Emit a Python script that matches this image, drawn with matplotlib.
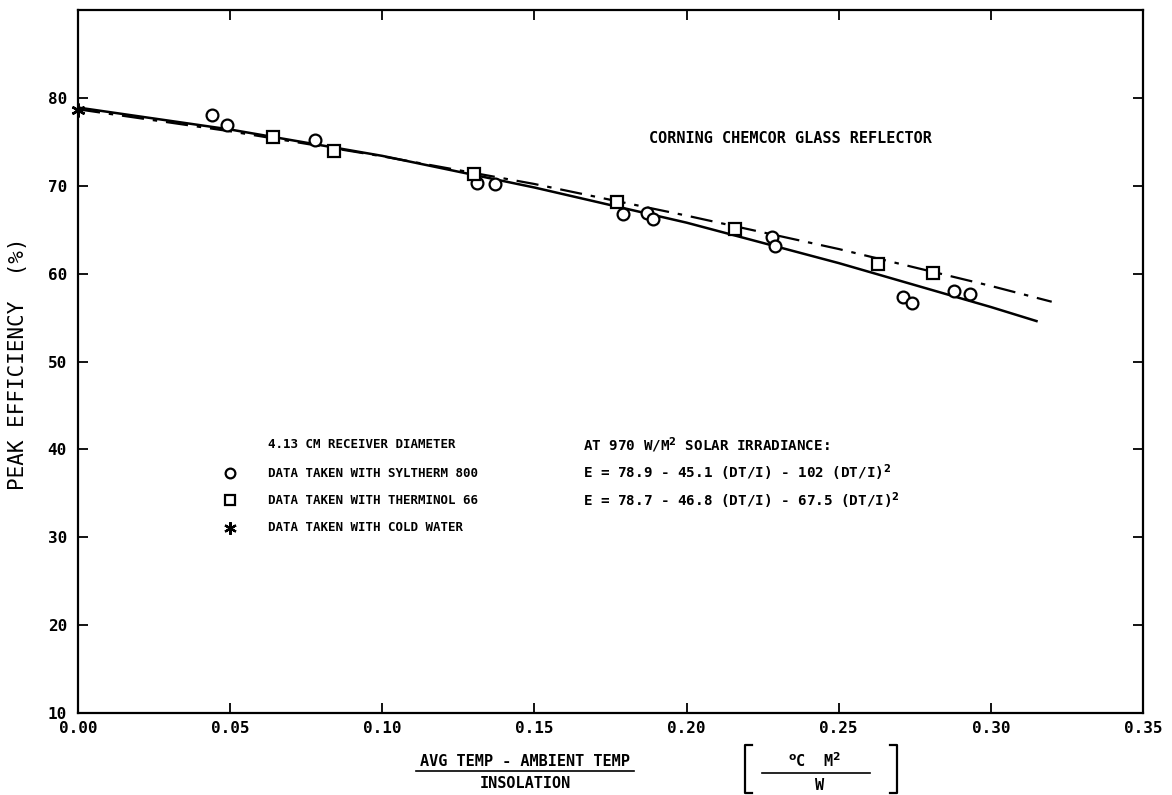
"""
Peak efficiency vs (avg temp - ambient temp)/insolation, Corning Chemcor glass reflector
"""
import matplotlib
matplotlib.use('Agg')
from matplotlib import pyplot as plt
from matplotlib.lines import Line2D

FONT = 'DejaVu Sans Mono'

# Syltherm 800 data (circles)
SYL_X = [0.044, 0.049, 0.078, 0.131, 0.137, 0.179, 0.187, 0.189,
         0.228, 0.229, 0.271, 0.274, 0.288, 0.293]
SYL_Y = [78.0, 76.9, 75.2, 70.3, 70.2, 66.8, 66.9, 66.2,
         64.2, 63.1, 57.3, 56.7, 58.0, 57.7]

# Therminol 66 data (squares)
THE_X = [0.064, 0.084, 0.130, 0.177, 0.216, 0.263, 0.281]
THE_Y = [75.5, 73.9, 71.3, 68.2, 65.1, 61.1, 60.1]

# cold water (asterisk)
COLD_X = [0.0]
COLD_Y = [78.6]

# fitted curves
FIT_SYL_X = [0.0, 0.05, 0.10, 0.15, 0.20, 0.25, 0.30, 0.315]
FIT_SYL_Y = [78.9, 76.4, 73.4, 69.8, 65.8, 61.2, 56.2, 54.6]
FIT_THE_X = [0.0, 0.05, 0.10, 0.15, 0.20, 0.25, 0.30, 0.32]
FIT_THE_Y = [78.7, 76.2, 73.35, 70.2, 66.6, 62.8, 58.6, 56.8]

X_TICKS = [0.00, 0.05, 0.10, 0.15, 0.20, 0.25, 0.30, 0.35]
Y_TICKS = [10, 20, 30, 40, 50, 60, 70, 80]


def main():
    fig = plt.figure(figsize=(11.72, 7.95), dpi=100)
    ax = fig.add_axes([78 / 1172, 1 - 713 / 795, (1143 - 78) / 1172, (713 - 10) / 795])
    ax.set_xlim(0, 0.35)
    ax.set_ylim(10, 90)

    ax.plot(FIT_SYL_X, FIT_SYL_Y, color='k', lw=1.8)
    ax.plot(FIT_THE_X, FIT_THE_Y, color='k', lw=1.6, dashes=(10, 4, 2, 4))

    ax.plot(SYL_X, SYL_Y, 'o', ms=8.5, mfc='white', mec='k', mew=1.6, ls='none')
    ax.plot(THE_X, THE_Y, 's', ms=8, mfc='white', mec='k', mew=1.6, ls='none')
    ax.plot(COLD_X, COLD_Y, marker=(6, 2, 0), ms=10, color='k', mew=1.8, ls='none',
            clip_on=False)

    ax.set_xticks(X_TICKS)
    ax.set_xticklabels([f'{v:.2f}' for v in X_TICKS], family=FONT,
                       fontweight='bold', fontsize=11.5)
    ax.set_yticks(Y_TICKS)
    ax.set_yticklabels([str(v) for v in Y_TICKS], family=FONT,
                       fontweight='bold', fontsize=11.5)
    ax.tick_params(direction='in', length=7, width=1.3, top=True, right=True)
    ax.tick_params(axis='x', pad=6)
    ax.tick_params(axis='y', pad=8)
    for spine in ax.spines.values():
        spine.set_linewidth(1.6)

    left = dict(family=FONT, fontweight='bold', fontsize=9, va='center')
    right = dict(family=FONT, fontweight='bold', fontsize=10.3, va='center')
    ax.text(0.1875, 75.4, 'CORNING CHEMCOR GLASS REFLECTOR',
            family=FONT, fontweight='bold', fontsize=11, va='center')
    ax.text(0.0625, 40.5, '4.13 CM RECEIVER DIAMETER', **left)
    ax.text(0.0625, 37.3, 'DATA TAKEN WITH SYLTHERM 800', **left)
    ax.text(0.0625, 34.2, 'DATA TAKEN WITH THERMINOL 66', **left)
    ax.text(0.0625, 31.1, 'DATA TAKEN WITH COLD WATER', **left)
    ax.text(0.166, 40.5, 'AT 970 W/M$^{\\mathbf{2}}$ SOLAR IRRADIANCE:', **right)
    ax.text(0.166, 37.3, 'E = 78.9 - 45.1 (DT/I) - 102 (DT/I)$^{\\mathbf{2}}$', **right)
    ax.text(0.166, 34.2, 'E = 78.7 - 46.8 (DT/I) - 67.5 (DT/I)$^{\\mathbf{2}}$', **right)

    ax.plot([0.050], [37.3], 'o', ms=7, mfc='white', mec='k', mew=1.6)
    ax.plot([0.050], [34.2], 's', ms=7, mfc='white', mec='k', mew=1.6)
    ax.plot([0.050], [31.1], marker=(6, 2, 0), ms=9, color='k', mew=1.6)

    # y label
    fig.text(18 / 1172, 1 - 364 / 795, 'PEAK EFFICIENCY  (%)', rotation=90,
             family=FONT, fontsize=15, ha='center', va='center')

    # x label as a fraction
    lab = dict(family=FONT, fontweight='bold', fontsize=11, ha='center', va='center')
    fig.text(525 / 1172, 1 - 761 / 795, 'AVG TEMP - AMBIENT TEMP', **lab)
    fig.text(525 / 1172, 1 - 783 / 795, 'INSOLATION', **lab)
    fig.add_artist(Line2D([416 / 1172, 634 / 1172], [1 - 771 / 795] * 2, color='k', lw=1.2))

    # units in brackets
    fig.text(815 / 1172, 1 - 761 / 795, '$^{\\mathbf{o}}$C  M$^{\\mathbf{2}}$', **lab)
    fig.text(820 / 1172, 1 - 785 / 795, 'W', **lab)
    fig.add_artist(Line2D([762 / 1172, 870 / 1172], [1 - 773 / 795] * 2, color='k', lw=1.2))
    for xa, xb in [(745, 752), (897, 890)]:
        fig.add_artist(Line2D([xb / 1172, xa / 1172, xa / 1172, xb / 1172],
                              [1 - 745 / 795, 1 - 745 / 795, 1 - 793 / 795, 1 - 793 / 795],
                              color='k', lw=1.6))

    fig.savefig('out.png', dpi=100)


if __name__ == '__main__':
    main()
